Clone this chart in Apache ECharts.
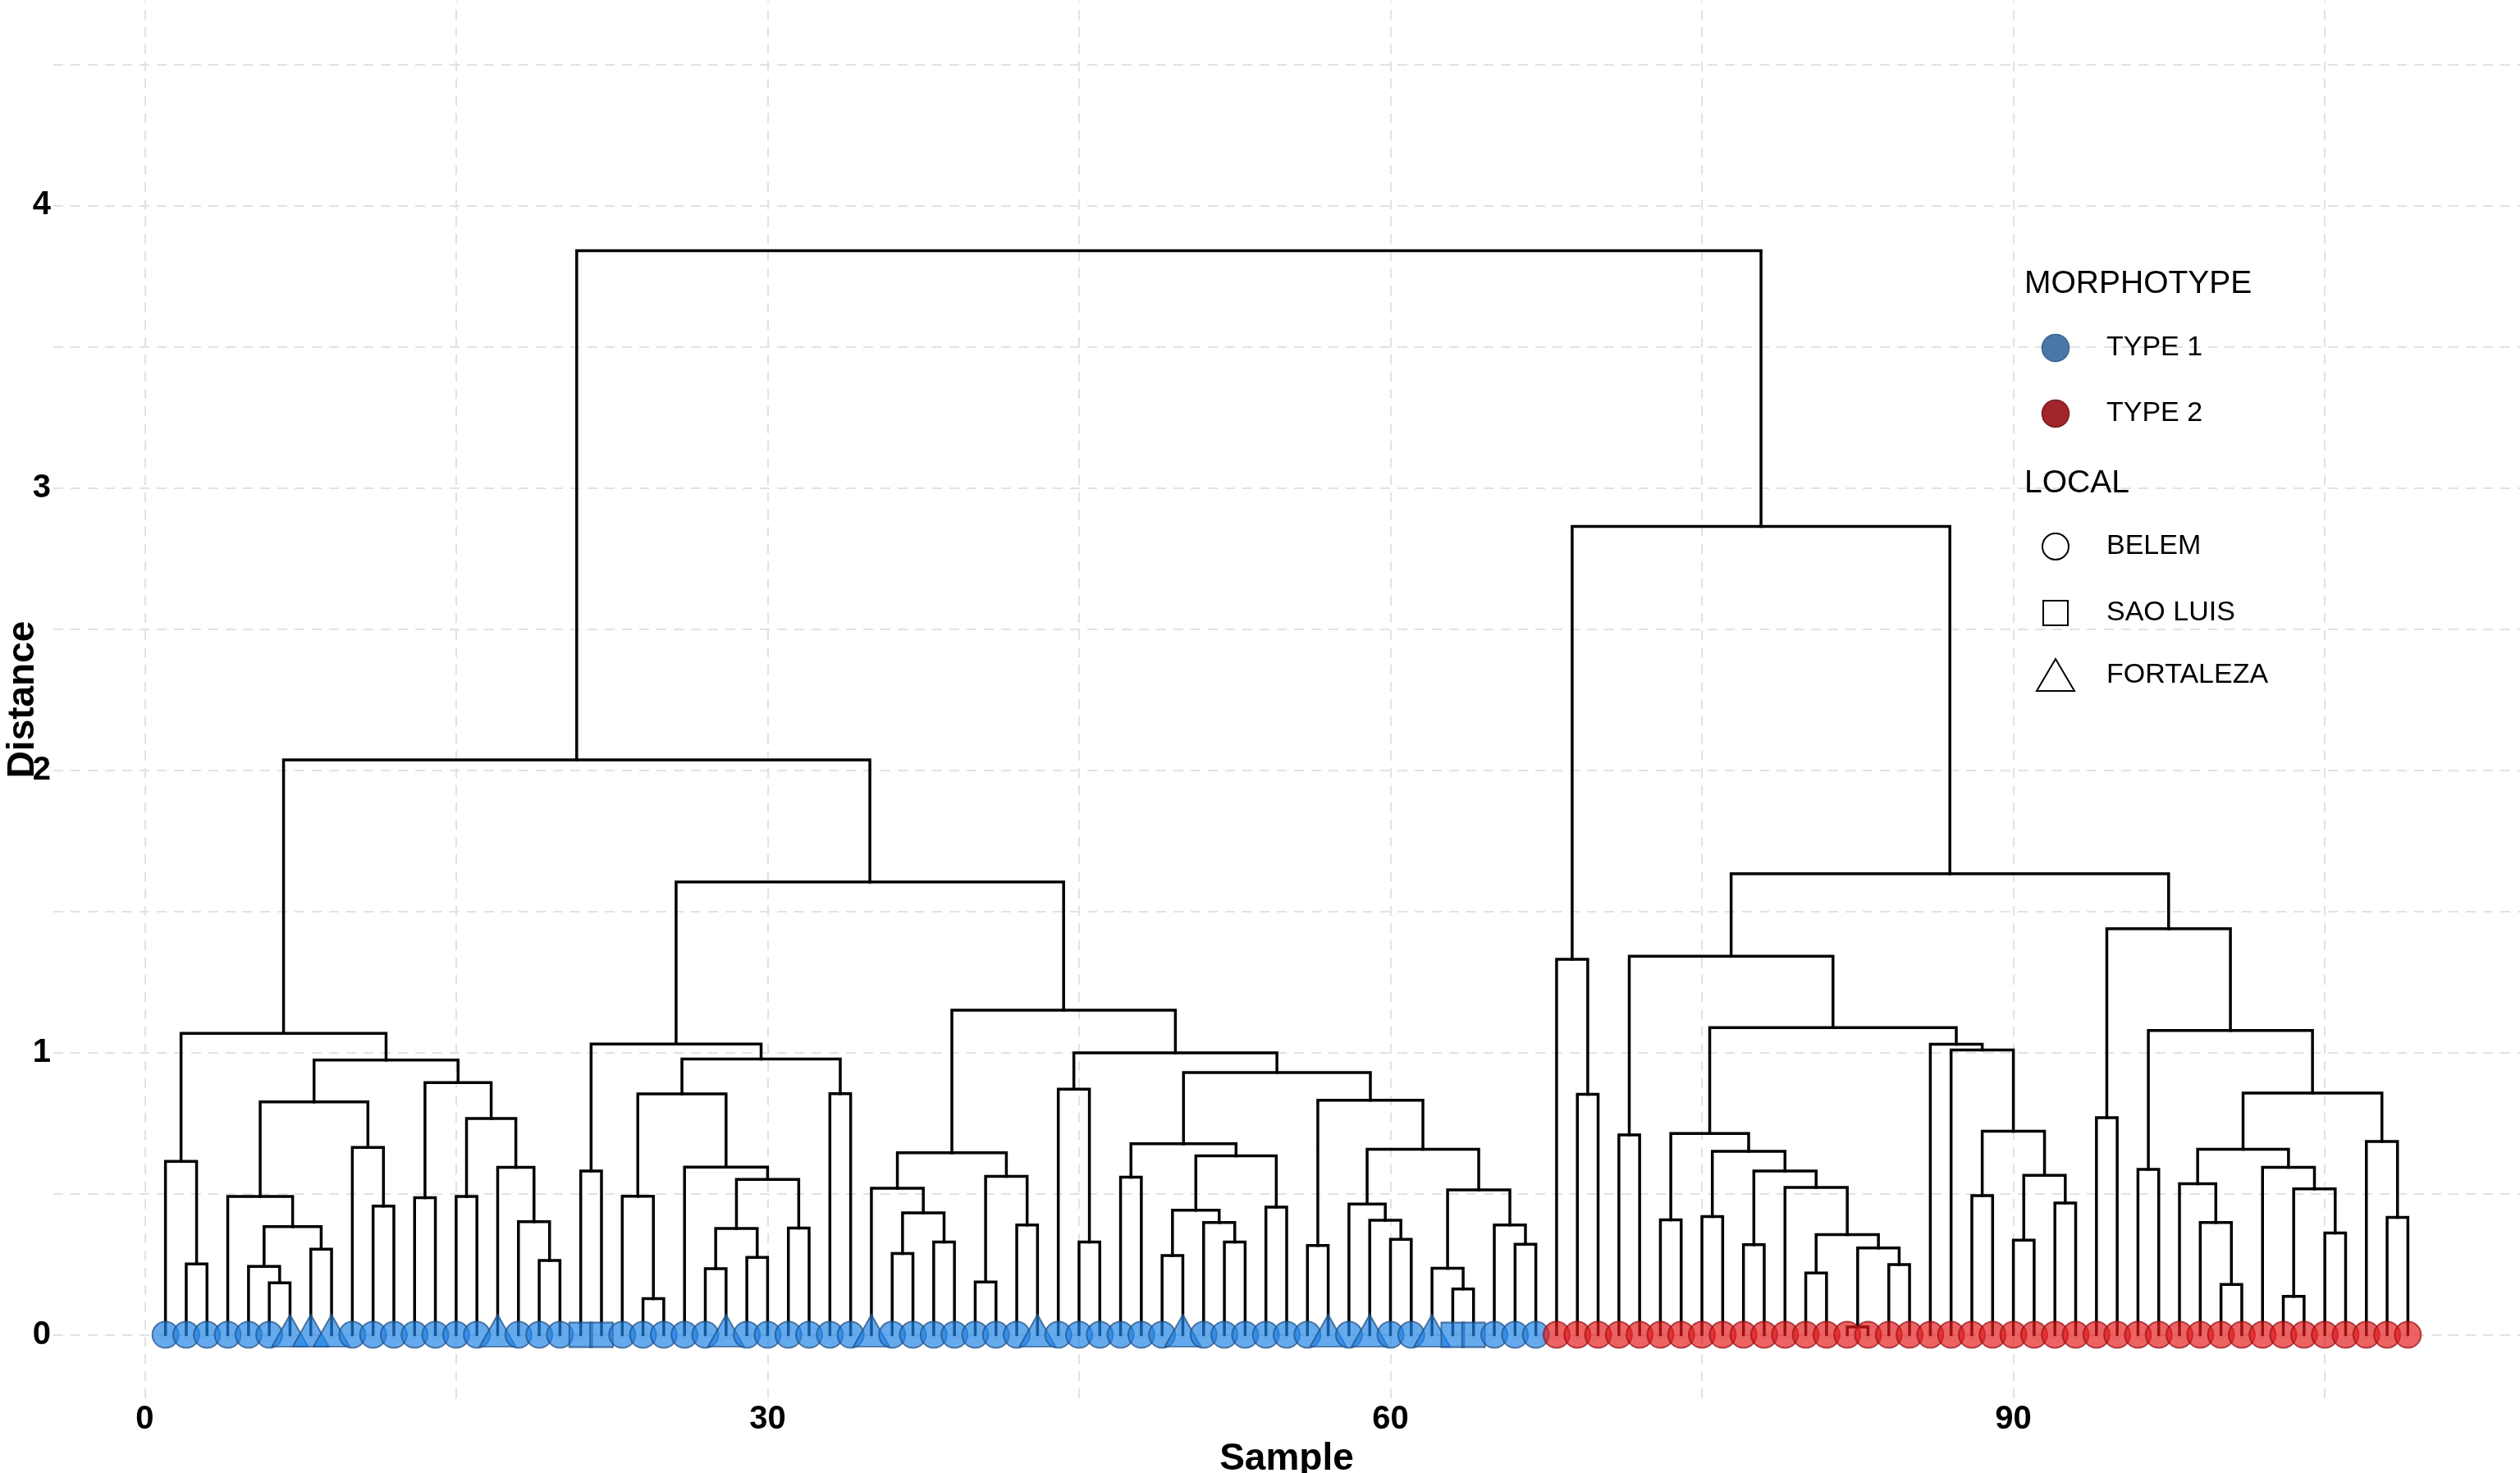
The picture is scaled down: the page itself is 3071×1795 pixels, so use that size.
<!DOCTYPE html>
<html style="height: 100%">
<head>
  <meta charset="utf-8">
  <title>Dendrogram</title>
  <script src="https://cdn.jsdelivr.net/npm/echarts@6/dist/echarts.min.js"></script>
</head>
<body style="margin:0; height:100%; background:#fff">
<div id="main" style="width:3071px; height:1795px;"></div>
<script type="text/javascript">
// ticks and grid
var xTicks = [0, 30, 60, 90];
var yTicks = [0, 1, 2, 3, 4];
var xGridLines = [0, 15, 30, 45, 60, 75, 90, 105];
var yGridLines = [0, 0.5, 1, 1.5, 2, 2.5, 3, 3.5, 4, 4.5];
var xRange = [-4.4, 114.4];
var yRange = [-0.225, 4.725];

// leaves in dendrogram order: morphotype and local (B = Belem, S = Sao Luis, F = Fortaleza)
var leafType = [
  '1111111111', '1111111111', '1111111111', '1111111111', '1111111111',
  '1111111111', '1111111222', '2222222222', '2222222222', '2222222222',
  '222222222'
].join('').split('');
var leafLocal = [
  'BBBBBBFFFB', 'BBBBBBFBBB', 'SSBBBBBFBB', 'BBBBFBBBBB', 'BBFBBBBBBF',
  'BBBBBBFBFB', 'BFSSBBBBBB', 'BBBBBBBBBB', 'BBBBBBBBBB', 'BBBBBBBBBB',
  'BBBBBBBBB'
].join('').split('');

// merges: [height, left, right]; a number is a leaf position
var t1_20 = [1.068, [0.614, 1, [0.251, 2, 3]],
  [0.973,
    [0.825, [0.490, 4, [0.383, [0.242, 5, [0.184, 6, 7]], [0.303, 8, 9]]], [0.664, 10, [0.456, 11, 12]]],
    [0.893, [0.486, 13, 14], [0.766, [0.490, 15, 16], [0.593, 17, [0.401, 18, [0.263, 19, 20]]]]]]];
var t21_34 = [1.030, [0.580, 21, 22],
  [0.977, [0.853, [0.491, 23, [0.128, 24, 25]],
    [0.594, 26, [0.550, [0.377, [0.234, 27, 28], [0.274, 29, 30]], [0.378, 31, 32]]]],
    [0.854, 33, 34]]];
var t35_43 = [0.645, [0.519, 35, [0.432, [0.288, 36, 37], [0.329, 38, 39]]],
  [0.561, [0.187, 40, 41], [0.389, 42, 43]]];
var t47_55 = [0.677, [0.558, 47, 48],
  [0.634, [0.441, [0.281, 49, 50], [0.398, 51, [0.329, 52, 53]]], [0.452, 54, 55]]];
var t56_67 = [0.831, [0.316, 56, 57],
  [0.657, [0.463, 58, [0.406, 59, [0.338, 60, 61]]],
    [0.513, [0.236, 62, [0.162, 63, 64]], [0.389, 65, [0.321, 66, 67]]]]];
var t44_67 = [0.999, [0.870, 44, [0.329, 45, 46]], [0.929, t47_55, t56_67]];
var t1_67 = [2.036, t1_20, [1.604, t21_34, [1.150, t35_43, t44_67]]];

var t68_70 = [1.330, 68, [0.852, 69, 70]];
var t73_85 = [0.713, [0.407, 73, 74],
  [0.650, [0.419, 75, 76],
    [0.580, [0.319, 77, 78],
      [0.522, 79, [0.355, [0.219, 80, 81], [0.308, [0.028, 82, 83], [0.249, 84, 85]]]]]]];
var t86_93 = [1.029, 86, [1.009, 87,
  [0.721, [0.493, 88, 89], [0.565, [0.335, 90, 91], [0.467, 92, 93]]]]];
var t94_109 = [1.438, [0.769, 94, 95],
  [1.078, [0.586, 96, 97],
    [0.856,
      [0.657, [0.535, 98, [0.398, 99, [0.178, 100, 101]]],
        [0.593, 102, [0.517, [0.136, 103, 104], [0.361, 105, 106]]]],
      [0.685, 107, [0.416, 108, 109]]]]];
var t68_109 = [2.863, t68_70, [1.633, [1.341, [0.708, 71, 72], [1.088, t73_85, t86_93]], t94_109]];

var tree = [3.840, t1_67, t68_109];

// build the elbow segments
var segments = [];
function walk(node) {
  if (typeof node === 'number') return { x: node, h: 0 };
  var h = node[0];
  var l = walk(node[1]);
  var r = walk(node[2]);
  segments.push({ coords: [[l.x, l.h], [l.x, h], [r.x, h], [r.x, r.h]] });
  return { x: (l.x + r.x) / 2, h: h };
}
walk(tree);

// dashed panel grid, drawn under the tree
var gridSegments = xGridLines.map(function (v) {
  return { coords: [[v, yRange[0]], [v, yRange[1]]] };
}).concat(yGridLines.map(function (v) {
  return { coords: [[xRange[0], v], [xRange[1], v]] };
}));

var fillColor = { '1': 'rgba(31,131,230,0.85)', '2': 'rgba(228,26,28,0.85)' };
var edgeColor = { '1': 'rgba(35,80,130,0.9)', '2': 'rgba(150,18,22,0.9)' };
var shapes = {
  B: { symbol: 'circle', size: 32, offset: [0, 0] },
  S: { symbol: 'rect', size: [28, 30], offset: [0, 0] },
  F: { symbol: 'triangle', size: [44, 39], offset: [0, -5] }
};
var leaves = leafType.map(function (t, i) {
  var s = shapes[leafLocal[i]];
  return {
    value: [i + 1, 0],
    symbol: s.symbol,
    symbolSize: s.size,
    symbolOffset: s.offset,
    itemStyle: { color: fillColor[t], borderColor: edgeColor[t], borderWidth: 2 }
  };
});

var font = 'Liberation Sans, Arial, sans-serif';

var myChart = echarts.init(document.getElementById('main'));
var option = {
  backgroundColor: '#fff',
  animation: false,
  grid: { left: 65, right: 0, top: 1, bottom: 91, containLabel: false, outerBoundsMode: 'none' },
  xAxis: {
    type: 'value', min: xRange[0], max: xRange[1],
    name: 'Sample', nameLocation: 'middle', nameGap: 38,
    nameTextStyle: { fontFamily: font, fontSize: 46, fontWeight: 'bold', color: '#000' },
    axisLine: { show: false }, axisTick: { show: false }, splitLine: { show: false },
    axisLabel: { customValues: xTicks, fontFamily: font, fontSize: 40, fontWeight: 'bold', color: '#000', margin: 6 }
  },
  yAxis: {
    type: 'value', min: yRange[0], max: yRange[1],
    name: 'Distance', nameLocation: 'middle', nameGap: 14, nameMoveOverlap: false,
    nameTextStyle: { fontFamily: font, fontSize: 46, fontWeight: 'bold', color: '#000' },
    axisLine: { show: false }, axisTick: { show: false }, splitLine: { show: false },
    axisLabel: { customValues: yTicks, fontFamily: font, fontSize: 40, fontWeight: 'bold', color: '#000', margin: 3 }
  },
  graphic: [
    { type: 'text', z: 10, x: 2467, y: 346, style: { text: 'MORPHOTYPE', font: '39px ' + font, fill: '#000', align: 'left', verticalAlign: 'middle' } },
    { type: 'circle', z: 10, shape: { cx: 2505, cy: 424, r: 16.5 }, style: { fill: '#4A78A6', stroke: '#3a6590', lineWidth: 1.5 } },
    { type: 'text', z: 10, x: 2567, y: 424, style: { text: 'TYPE 1', font: '34px ' + font, fill: '#000', align: 'left', verticalAlign: 'middle' } },
    { type: 'circle', z: 10, shape: { cx: 2505, cy: 504, r: 16.5 }, style: { fill: '#9F252A', stroke: '#7d1b1f', lineWidth: 1.5 } },
    { type: 'text', z: 10, x: 2567, y: 504, style: { text: 'TYPE 2', font: '34px ' + font, fill: '#000', align: 'left', verticalAlign: 'middle' } },
    { type: 'text', z: 10, x: 2467, y: 589, style: { text: 'LOCAL', font: '39px ' + font, fill: '#000', align: 'left', verticalAlign: 'middle' } },
    { type: 'circle', z: 10, shape: { cx: 2505, cy: 666, r: 16 }, style: { fill: '#fff', stroke: '#000', lineWidth: 2 } },
    { type: 'text', z: 10, x: 2567, y: 666, style: { text: 'BELEM', font: '34px ' + font, fill: '#000', align: 'left', verticalAlign: 'middle' } },
    { type: 'rect', z: 10, shape: { x: 2490, y: 732, width: 30, height: 30 }, style: { fill: '#fff', stroke: '#000', lineWidth: 2 } },
    { type: 'text', z: 10, x: 2567, y: 747, style: { text: 'SAO LUIS', font: '34px ' + font, fill: '#000', align: 'left', verticalAlign: 'middle' } },
    { type: 'polygon', z: 10, shape: { points: [[2482, 842], [2528, 842], [2505, 803]] }, style: { fill: '#fff', stroke: '#000', lineWidth: 2 } },
    { type: 'text', z: 10, x: 2567, y: 823, style: { text: 'FORTALEZA', font: '34px ' + font, fill: '#000', align: 'left', verticalAlign: 'middle' } }
  ],
  series: [
    {
      name: 'grid', type: 'lines', coordinateSystem: 'cartesian2d',
      z: 1, silent: true,
      lineStyle: { color: '#e2e2e2', width: 2, type: [12, 9], opacity: 1 },
      data: gridSegments
    },
    {
      name: 'tree', type: 'lines', coordinateSystem: 'cartesian2d', polyline: true,
      z: 2, silent: true,
      lineStyle: { color: '#000', width: 3.5, opacity: 1, cap: 'square', join: 'miter' },
      data: segments
    },
    {
      name: 'leaves', type: 'scatter', z: 3, silent: true,
      data: leaves
    }
  ]
};
myChart.setOption(option, true);
</script>
</body>
</html>
